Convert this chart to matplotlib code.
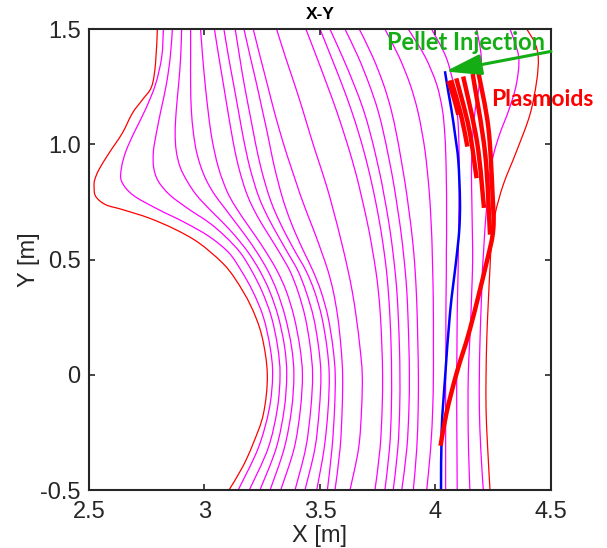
import matplotlib.pyplot as plt
import numpy as np
from matplotlib.path import Path
from matplotlib.patches import PathPatch

plt.rcParams['font.family'] = ['Liberation Sans', 'DejaVu Sans']

# y levels at which the magenta flux surfaces are sampled
y_levels = [1.5, 1.38, 1.26, 1.15, 1.05, 0.97, 0.9, 0.84, 0.78, 0.72, 0.66,
            0.6, 0.53, 0.45, 0.36, 0.25, 0.12, 0.0, -0.15, -0.32, -0.5]

# x of each flux surface at y_levels (left to right)
surf_x = [
    [2.822, 2.815, 2.788, 2.744, 2.695, 2.66, 2.641, 2.641, 2.69, 2.795, 2.916, 3.02, 3.105, 3.16, 3.21, 3.255, 3.284, 3.295, 3.28, 3.232, 3.146],
    [2.861, 2.852, 2.835, 2.812, 2.792, 2.779, 2.78, 2.80, 2.85, 2.93, 3.02, 3.09, 3.155, 3.205, 3.25, 3.29, 3.317, 3.327, 3.315, 3.275, 3.194],
    [2.901, 2.897, 2.888, 2.878, 2.873, 2.878, 2.895, 2.925, 2.965, 3.02, 3.08, 3.135, 3.19, 3.24, 3.283, 3.32, 3.347, 3.356, 3.345, 3.31, 3.24],
    [2.940, 2.940, 2.940, 2.943, 2.952, 2.965, 2.985, 3.01, 3.045, 3.09, 3.135, 3.18, 3.228, 3.275, 3.315, 3.35, 3.377, 3.387, 3.377, 3.345, 3.284],
    [2.983, 2.992, 3.003, 3.015, 3.028, 3.043, 3.06, 3.08, 3.105, 3.14, 3.18, 3.222, 3.268, 3.315, 3.355, 3.388, 3.413, 3.424, 3.415, 3.388, 3.33],
    [3.043, 3.062, 3.082, 3.1, 3.117, 3.132, 3.148, 3.165, 3.185, 3.212, 3.245, 3.282, 3.325, 3.37, 3.405, 3.436, 3.458, 3.468, 3.46, 3.438, 3.392],
    [3.084, 3.104, 3.126, 3.146, 3.164, 3.18, 3.196, 3.213, 3.232, 3.257, 3.287, 3.32, 3.36, 3.405, 3.44, 3.472, 3.494, 3.504, 3.497, 3.478, 3.435],
    [3.133, 3.152, 3.172, 3.193, 3.212, 3.228, 3.244, 3.26, 3.278, 3.3, 3.327, 3.357, 3.395, 3.44, 3.477, 3.508, 3.53, 3.540, 3.535, 3.518, 3.486],
    [3.171, 3.198, 3.226, 3.25, 3.272, 3.288, 3.303, 3.318, 3.334, 3.353, 3.375, 3.4, 3.432, 3.47, 3.505, 3.535, 3.556, 3.566, 3.563, 3.552, 3.532],
    [3.211, 3.241, 3.272, 3.3, 3.328, 3.352, 3.375, 3.395, 3.415, 3.437, 3.46, 3.483, 3.508, 3.535, 3.558, 3.577, 3.591, 3.598, 3.596, 3.587, 3.565],
    [3.312, 3.35, 3.39, 3.425, 3.455, 3.48, 3.503, 3.522, 3.54, 3.556, 3.572, 3.587, 3.604, 3.622, 3.64, 3.657, 3.673, 3.683, 3.68, 3.667, 3.63],
    [3.439, 3.485, 3.53, 3.57, 3.603, 3.628, 3.648, 3.664, 3.678, 3.692, 3.705, 3.717, 3.729, 3.742, 3.753, 3.762, 3.768, 3.771, 3.769, 3.76, 3.738],
    [3.500, 3.548, 3.595, 3.635, 3.667, 3.69, 3.708, 3.722, 3.735, 3.747, 3.758, 3.768, 3.778, 3.788, 3.796, 3.803, 3.808, 3.810, 3.809, 3.801, 3.781],
    [3.543, 3.597, 3.647, 3.688, 3.717, 3.737, 3.753, 3.766, 3.777, 3.788, 3.798, 3.807, 3.816, 3.825, 3.833, 3.839, 3.844, 3.846, 3.845, 3.837, 3.817],
    [3.608, 3.665, 3.713, 3.75, 3.775, 3.792, 3.806, 3.817, 3.827, 3.836, 3.845, 3.853, 3.861, 3.869, 3.876, 3.881, 3.885, 3.887, 3.885, 3.876, 3.854],
    [3.670, 3.728, 3.775, 3.808, 3.83, 3.845, 3.857, 3.867, 3.876, 3.884, 3.892, 3.899, 3.906, 3.912, 3.917, 3.921, 3.924, 3.926, 3.925, 3.919, 3.904],
    [3.781, 3.842, 3.89, 3.922, 3.942, 3.955, 3.963, 3.969, 3.974, 3.978, 3.981, 3.984, 3.986, 3.988, 3.99, 3.991, 3.991, 3.991, 3.988, 3.979, 3.962],
    [3.882, 3.955, 4.005, 4.03, 4.04, 4.044, 4.046, 4.047, 4.048, 4.048, 4.048, 4.048, 4.047, 4.047, 4.046, 4.045, 4.045, 4.044, 4.044, 4.044, 4.044],
    [3.983, 4.045, 4.078, 4.093, 4.1, 4.102, 4.103, 4.103, 4.103, 4.102, 4.101, 4.1, 4.099, 4.098, 4.096, 4.094, 4.093, 4.092, 4.092, 4.093, 4.094],
    [4.178, 4.198, 4.19, 4.172, 4.162, 4.158, 4.156, 4.156, 4.157, 4.158, 4.159, 4.16, 4.161, 4.16, 4.157, 4.153, 4.147, 4.142, 4.141, 4.143, 4.149],
    [4.323, 4.36, 4.35, 4.318, 4.28, 4.255, 4.24, 4.232, 4.226, 4.221, 4.216, 4.212, 4.208, 4.203, 4.2, 4.196, 4.192, 4.19, 4.19, 4.196, 4.207],
]

# red boundary surface, left and right branches
sep_left_y = [1.5, 1.35, 1.25, 1.193, 1.135, 1.048, 0.962, 0.89, 0.846, 0.817, 0.774, 0.738, 0.717,
              0.68, 0.63, 0.572, 0.486, 0.413, 0.3, 0.17, 0.0, -0.17, -0.3, -0.4, -0.5]
sep_left_x = [2.796, 2.788, 2.771, 2.731, 2.688, 2.644, 2.587, 2.543, 2.525, 2.522, 2.529, 2.572, 2.644,
              2.76, 2.875, 2.976, 3.077, 3.135, 3.2, 3.248, 3.272, 3.255, 3.21, 3.165, 3.106]
sep_right_y = [1.5, 1.44, 1.375, 1.274, 1.129, 0.97, 0.826, 0.696, 0.581, 0.465, 0.3, 0.154, 0.0, -0.15, -0.3, -0.5]
sep_right_x = [4.395, 4.43, 4.445, 4.438, 4.409, 4.351, 4.294, 4.258, 4.243, 4.236, 4.228, 4.222, 4.219, 4.219, 4.225, 4.236]

# pellet trajectory (blue)
pellet_y = [1.317, 1.23, 1.144, 1.04, 0.927, 0.754, 0.63, 0.5, 0.269, -0.02, -0.236, -0.5]
pellet_x = [4.041, 4.055, 4.07, 4.085, 4.099, 4.106, 4.103, 4.09, 4.063, 4.041, 4.027, 4.024]

# plasmoid tracks (thick red)
plasmoid_x = [
    [4.056, 4.08, 4.099],
    [4.068, 4.11, 4.138],
    [4.09, 4.145, 4.178],
    [4.12, 4.18, 4.21],
    [4.161, 4.215, 4.236],
    [4.185, 4.229, 4.247, 4.25, 4.221, 4.149, 4.092, 4.048, 4.022],
]
plasmoid_y = [
    [1.275, 1.2, 1.128],
    [1.278, 1.13, 0.99],
    [1.286, 1.07, 0.853],
    [1.294, 1.01, 0.724],
    [1.305, 0.96, 0.608],
    [1.315, 1.072, 0.783, 0.63, 0.486, 0.197, 0.009, -0.164, -0.308],
]

green = '#14ad14'


def smooth_line(ax, xs, ys, **kw):
    # catmull-rom through the points, drawn as bezier segments
    p = np.column_stack([xs, ys]).astype(float)
    ext = np.vstack([p[0], p, p[-1]])
    verts = [p[0]]
    codes = [Path.MOVETO]
    for i in range(len(p) - 1):
        c1 = ext[i + 1] + (ext[i + 2] - ext[i]) / 6
        c2 = ext[i + 2] - (ext[i + 3] - ext[i + 1]) / 6
        verts += [c1, c2, ext[i + 2]]
        codes += [Path.CURVE4] * 3
    ax.add_patch(PathPatch(Path(verts, codes), fill=False, **kw))


fig = plt.figure(figsize=(6.07, 5.48), dpi=100)
ax = fig.add_axes([0.1466, 0.1058, 0.7611, 0.8412])

for xs in surf_x:
    smooth_line(ax, xs, y_levels, edgecolor='#ff00ff', lw=0.9)
smooth_line(ax, sep_left_x, sep_left_y, edgecolor='red', lw=0.9)
smooth_line(ax, sep_right_x, sep_right_y, edgecolor='red', lw=0.9)
smooth_line(ax, pellet_x, pellet_y, edgecolor='#0000ff', lw=1.8)
for xs, ys in zip(plasmoid_x, plasmoid_y):
    smooth_line(ax, xs, ys, edgecolor='red', lw=3.2, capstyle='butt')

ax.annotate('', xy=(4.043, 1.316), xytext=(4.5, 1.403),
            arrowprops=dict(arrowstyle='-|>,head_length=1.1,head_width=0.32',
                            mutation_scale=20, color=green, lw=2.2,
                            shrinkA=0, shrinkB=0),
            annotation_clip=False)
ax.text(3.792, 1.409, 'Pellet Injection', color=green, fontsize=17,
        fontweight='bold', family=['Lato', 'DejaVu Sans'], va='baseline')
ax.text(4.243, 1.168, 'Plasmoids', color='red', fontsize=16.5,
        fontweight='bold', family=['Lato', 'DejaVu Sans'], va='baseline', clip_on=False)

ax.set_xlim(2.5, 4.5)
ax.set_ylim(-0.5, 1.5)
ax.set_xticks([2.5, 3, 3.5, 4, 4.5])
ax.set_xticklabels(['2.5', '3', '3.5', '4', '4.5'])
ax.set_yticks([-0.5, 0, 0.5, 1.0, 1.5])
ax.set_yticklabels(['-0.5', '0', '0.5', '1.0', '1.5'])
ax.tick_params(direction='in', top=True, right=True, length=4, width=1.2,
               labelsize=17, colors='#262626', pad=6)
ax.tick_params(axis='x', pad=8)
for s in ax.spines.values():
    s.set_linewidth(1.5)
    s.set_color('#262626')

ax.set_xlabel('X [m]', fontsize=17, color='#262626', labelpad=1)
ax.set_ylabel('Y [m]', fontsize=17, color='#262626', labelpad=0)
ax.set_title('X-Y', fontsize=12.5, fontweight='bold', pad=7)

fig.savefig('out.png', dpi=100)
